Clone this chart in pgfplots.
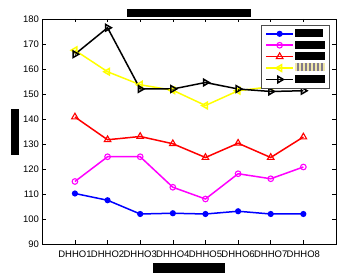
\documentclass[border=0pt]{standalone}
\usepackage{pgfplots}
\pgfplotsset{compat=1.18}
\usepackage{fontspec}
\setmainfont{Liberation Sans}
\definecolor{ya}{RGB}{240,232,170}
\definecolor{yb}{RGB}{130,122,140}
\definecolor{mblue}{RGB}{0,0,255}
\definecolor{mmag}{RGB}{255,0,255}
\definecolor{mred}{RGB}{255,0,0}
\definecolor{myel}{RGB}{255,255,0}
\newcommand{\ystripe}{\textcolor{ya}{\rule{2pt}{8pt}}\textcolor{yb}{\rule{2pt}{8pt}}}
\begin{document}
\fontsize{9.5}{11}\selectfont
\begin{tikzpicture}
\useasboundingbox (-42.3pt,-36pt) rectangle (305.7pt,244pt);
\begin{axis}[
  at={(0pt,0pt)}, anchor=south west,
  scale only axis, width=293.7pt, height=225pt,
  xmin=0, xmax=9, ymin=90, ymax=180,
  xtick={1,2,3,4,5,6,7,8},
  xticklabels={DHHO1,DHHO2,DHHO3,DHHO4,DHHO5,DHHO6,DHHO7,DHHO8},
  ytick={90,100,...,180},
  tick align=inside, tick pos=both,
  major tick length=3.5pt,
  tick style={black, line width=0.5pt},
  axis line style={line width=0.6pt},
  /pgf/number format/assume math mode=true,
  ticklabel style={font=\fontsize{9.5}{11}\selectfont},
  xticklabel style={yshift=-4pt},
  every axis plot/.append style={line width=1.5pt, mark options={solid, line width=1.1pt}},
  legend image code/.code={\draw[mark repeat=2,mark phase=2,#1] plot coordinates {(0pt,0pt)(13.3pt,0pt)(26.6pt,0pt)};},
  legend style={at={(287.7pt,219pt)}, anchor=north east, draw=black!70, line width=0.6pt,
    inner xsep=4pt, inner ysep=2.8pt, row sep=0pt,
    nodes={inner sep=1pt, anchor=west}},
  legend cell align=left,
]
\addplot[mblue, mark=*, mark size=2.5pt] coordinates {(1,110.2)(2,107.5)(3,102)(4,102.3)(5,102)(6,103.1)(7,102)(8,102)};
\addlegendentry{\rule{28pt}{8pt}}
\addplot[mmag, mark=o, mark size=2.8pt] coordinates {(1,115)(2,124.9)(3,124.9)(4,112.7)(5,108)(6,118.1)(7,116.1)(8,120.8)};
\addlegendentry{\rule{30pt}{8pt}}
\addplot[mred, mark=triangle, mark size=3.8pt] coordinates {(1,140.8)(2,131.7)(3,133)(4,130.1)(5,124.6)(6,130.3)(7,124.6)(8,132.8)};
\addlegendentry{\rule{30pt}{8pt}}
\addplot[myel, mark=triangle, mark size=3.8pt, mark options={rotate=90}] coordinates {(1,167.5)(2,158.9)(3,153.7)(4,151.5)(5,145.4)(6,151.3)(7,152.9)(8,154)};
\addlegendentry{\ystripe\ystripe\ystripe\ystripe\ystripe\ystripe\ystripe\textcolor{ya}{\rule{2pt}{8pt}}}
\addplot[black, mark=triangle, mark size=3.8pt, mark options={rotate=-90}] coordinates {(1,165.9)(2,176.5)(3,152)(4,152)(5,154.6)(6,152)(7,151)(8,151.3)};
\addlegendentry{\rule{30pt}{8pt}}
\end{axis}
\node[fill=black, inner sep=0pt, minimum width=124pt, minimum height=8pt] at (146.5pt,231.2pt) {};
\node[fill=black, inner sep=0pt, minimum width=8pt, minimum height=46pt] at (-27.3pt,112pt) {};
\node[fill=black, inner sep=0pt, minimum width=72pt, minimum height=10pt] at (146.7pt,-23.7pt) {};
\end{tikzpicture}
\end{document}
